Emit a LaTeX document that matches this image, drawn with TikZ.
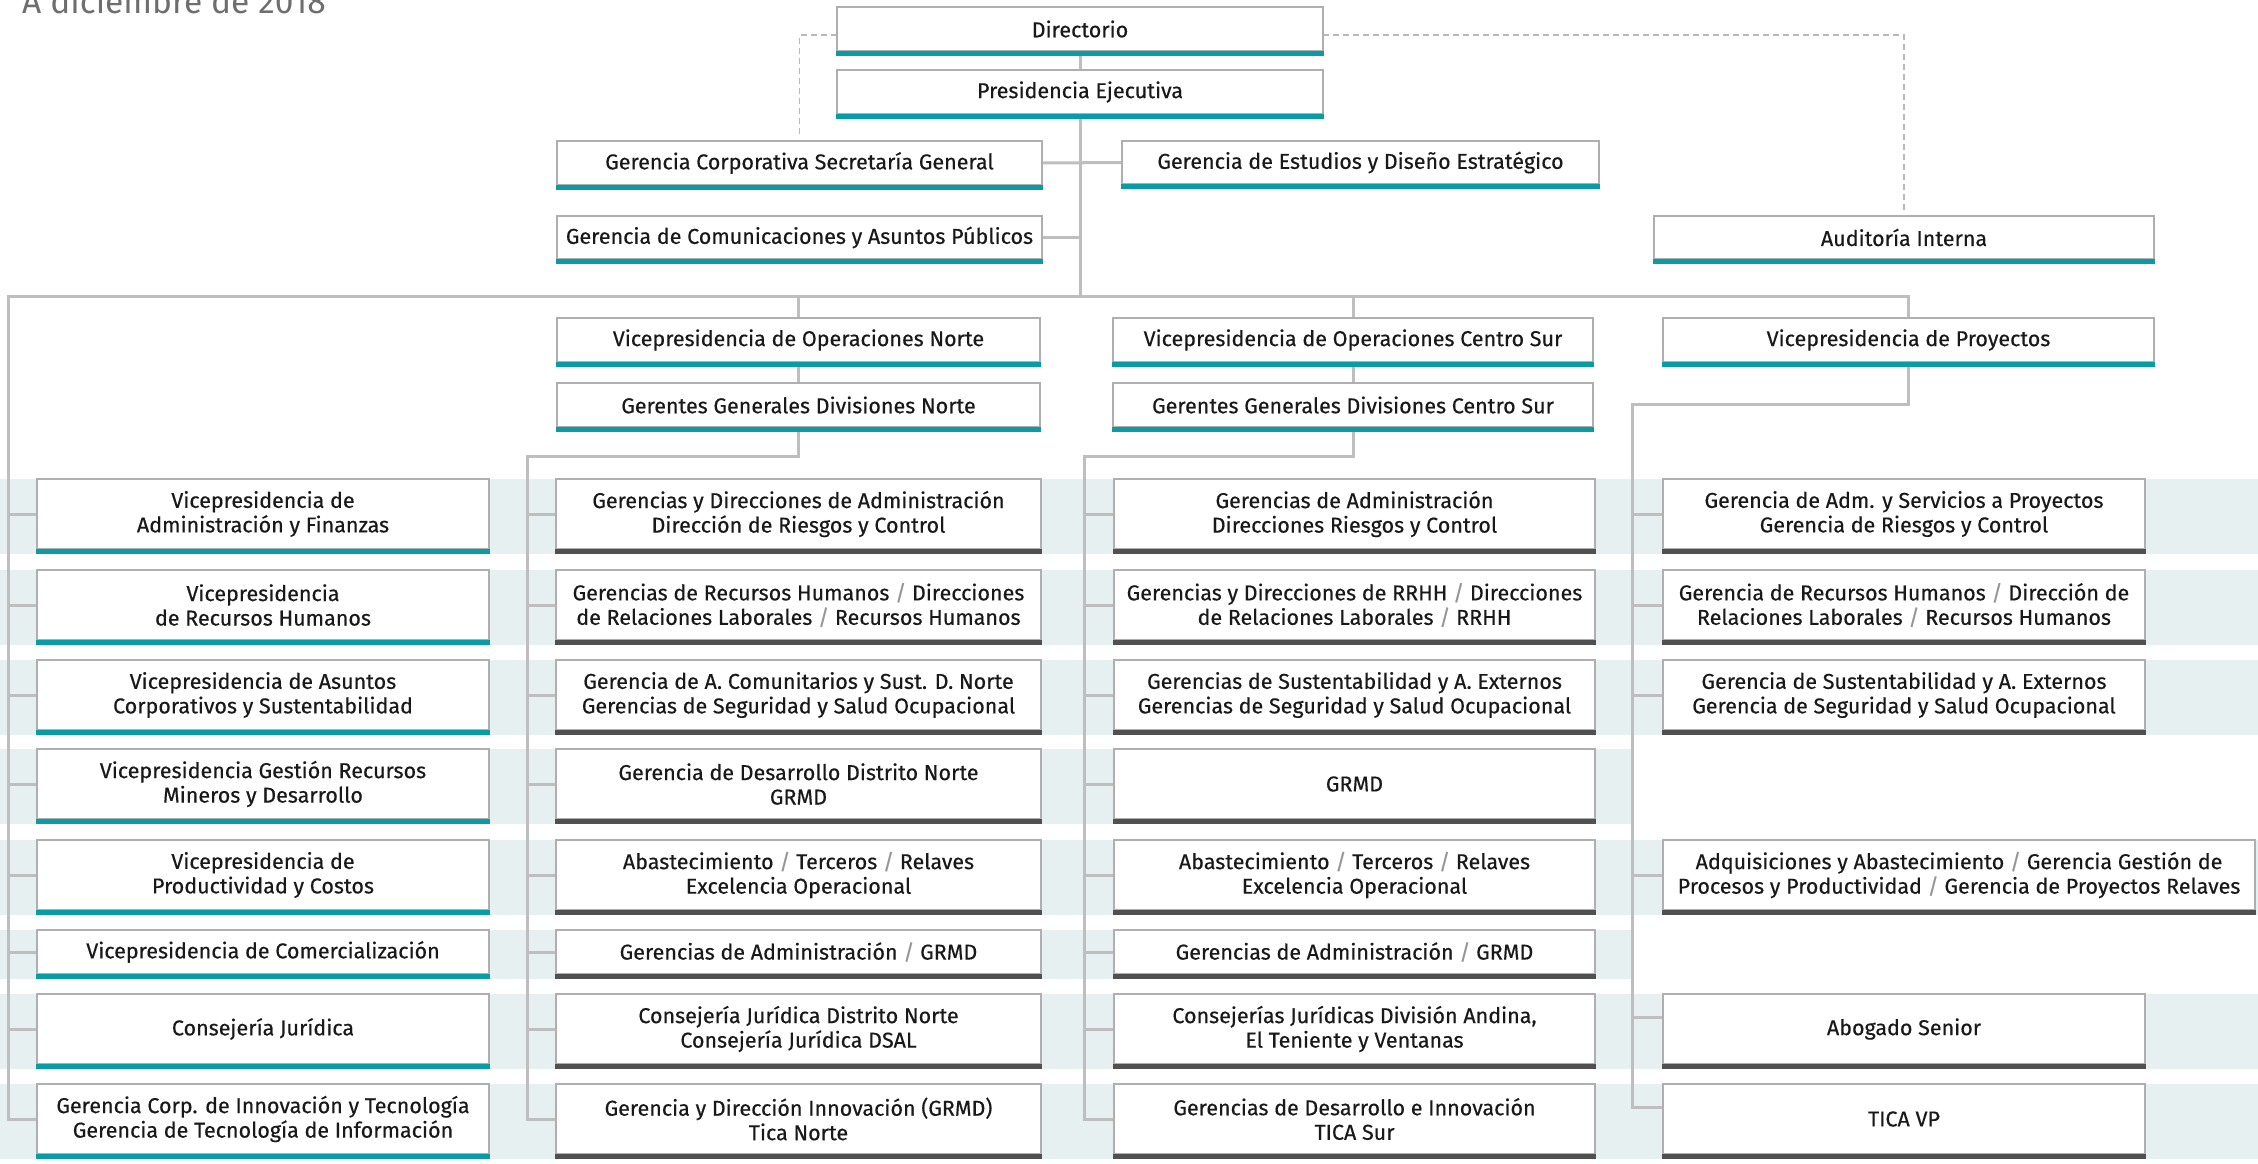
\documentclass[tikz,border=0pt]{standalone}
\usepackage{fontspec}
\setmainfont{Fira Sans}[FakeBold=0.4]
\newfontfamily\titlefont{Fira Sans}
\definecolor{tealc}{RGB}{10,155,165}
\definecolor{darkbar}{RGB}{80,80,80}
\definecolor{bandc}{RGB}{231,240,241}
\definecolor{connc}{RGB}{190,190,190}
\definecolor{borderc}{RGB}{175,175,175}
\definecolor{txtc}{RGB}{25,25,25}
\definecolor{slc}{RGB}{150,150,150}
\definecolor{dashc}{RGB}{185,185,185}
\definecolor{titlec}{RGB}{110,110,110}
\newcommand\osl{{\color{slc}/}}
\pgfdeclarelayer{bandl}
\pgfdeclarelayer{connl}
\pgfsetlayers{bandl,connl,main}
\tikzset{
 boxst/.style={draw=borderc, line width=1.5pt, fill=white, inner sep=2pt, outer sep=0pt,
   align=center, text=txtc, font=\fontsize{21.5}{24.5}\selectfont},
 conn/.style={draw=connc, line width=3pt},
 dsh/.style={draw=dashc, line width=1.5pt, dash pattern=on 6pt off 4pt},
}
\newcommand\obox[7]{%
 \node[boxst, anchor=north west, minimum width=#4pt, minimum height=#5pt] (#1) at (#2,#3) {#7};
 \fill[#6] ([xshift=-0.75pt]#1.south west) rectangle ([xshift=0.75pt,yshift=-5pt]#1.south east);
}
\begin{document}
\begin{tikzpicture}[x=1pt,y=-1pt]
\useasboundingbox (0,0) rectangle (2258,1163);
\clip (0,0) rectangle (2258,1163);
\node[anchor=base west, inner sep=0pt, font=\titlefont\fontsize{33.5}{33.5}\selectfont, text=titlec] (title) at (22,13) {A diciembre de 2018};

% top boxes
\obox{dir}{837}{7}{486}{44}{tealc}{Directorio}
\obox{pres}{837}{70}{486}{44}{tealc}{Presidencia Ejecutiva}
\obox{sec}{557}{141}{485}{44}{tealc}{Gerencia Corporativa Secretaría General}
\obox{com}{557}{216}{485}{43}{tealc}{Gerencia de Comunicaciones y Asuntos Públicos}
\obox{est}{1122}{141}{477}{43}{tealc}{Gerencia de Estudios y Diseño Estratégico}
\obox{aud}{1654}{216}{500}{43}{tealc}{Auditoría Interna}
\obox{vpn}{557}{318}{483}{44}{tealc}{Vicepresidencia de Operaciones Norte}
\obox{gn}{557}{383}{483}{44}{tealc}{Gerentes Generales Divisiones Norte}
\obox{vpc}{1113}{318}{480}{44}{tealc}{Vicepresidencia de Operaciones Centro Sur}
\obox{gc}{1113}{383}{480}{44}{tealc}{Gerentes Generales Divisiones Centro Sur}
\obox{vpp}{1663}{318}{491}{44}{tealc}{Vicepresidencia de Proyectos}

% left column
\obox{l1}{37}{479}{452}{70}{tealc}{Vicepresidencia de\\Administración y Finanzas}
\obox{l2}{37}{570}{452}{70}{tealc}{Vicepresidencia\\de Recursos Humanos}
\obox{l3}{37}{660}{452}{70}{tealc}{Vicepresidencia de Asuntos\\Corporativos y Sustentabilidad}
\obox{l4}{37}{749}{452}{70}{tealc}{Vicepresidencia Gestión Recursos\\Mineros y Desarrollo}
\obox{l5}{37}{840}{452}{70}{tealc}{Vicepresidencia de\\Productividad y Costos}
\obox{l6}{37}{930}{452}{44}{tealc}{Vicepresidencia de Comercialización}
\obox{l7}{37}{994}{452}{70}{tealc}{Consejería Jurídica}
\obox{l8}{37}{1084}{452}{70}{tealc}{Gerencia Corp. de Innovación y Tecnología\\Gerencia de Tecnología de Información}

% Norte column
\obox{n1}{556}{479}{485}{70}{darkbar}{Gerencias y Direcciones de Administración\\Dirección de Riesgos y Control}
\obox{n2}{556}{570}{485}{70}{darkbar}{Gerencias de Recursos Humanos \osl{} Direcciones\\de Relaciones Laborales \osl{} Recursos Humanos}
\obox{n3}{556}{660}{485}{70}{darkbar}{Gerencia de A. Comunitarios y Sust. D. Norte\\Gerencias de Seguridad y Salud Ocupacional}
\obox{n4}{556}{749}{485}{70}{darkbar}{Gerencia de Desarrollo Distrito Norte\\GRMD}
\obox{n5}{556}{840}{485}{70}{darkbar}{Abastecimiento \osl{} Terceros \osl{} Relaves\\Excelencia Operacional}
\obox{n6}{556}{930}{485}{44}{darkbar}{Gerencias de Administración \osl{} GRMD}
\obox{n7}{556}{994}{485}{70}{darkbar}{Consejería Jurídica Distrito Norte\\Consejería Jurídica DSAL}
\obox{n8}{556}{1084}{485}{70}{darkbar}{Gerencia y Dirección Innovación (GRMD)\\Tica Norte}

% Centro Sur column
\obox{c1}{1114}{479}{481}{70}{darkbar}{Gerencias de Administración\\Direcciones Riesgos y Control}
\obox{c2}{1114}{570}{481}{70}{darkbar}{Gerencias y Direcciones de RRHH \osl{} Direcciones\\de Relaciones Laborales \osl{} RRHH}
\obox{c3}{1114}{660}{481}{70}{darkbar}{Gerencias de Sustentabilidad y A. Externos\\Gerencias de Seguridad y Salud Ocupacional}
\obox{c4}{1114}{749}{481}{70}{darkbar}{GRMD}
\obox{c5}{1114}{840}{481}{70}{darkbar}{Abastecimiento \osl{} Terceros \osl{} Relaves\\Excelencia Operacional}
\obox{c6}{1114}{930}{481}{44}{darkbar}{Gerencias de Administración \osl{} GRMD}
\obox{c7}{1114}{994}{481}{70}{darkbar}{Consejerías Jurídicas División Andina,\\El Teniente y Ventanas}
\obox{c8}{1114}{1084}{481}{70}{darkbar}{Gerencias de Desarrollo e Innovación\\TICA Sur}

% Proyectos column
\obox{p1}{1663}{479}{482}{70}{darkbar}{Gerencia de Adm. y Servicios a Proyectos\\Gerencia de Riesgos y Control}
\obox{p2}{1663}{570}{482}{70}{darkbar}{Gerencia de Recursos Humanos \osl{} Dirección de\\Relaciones Laborales \osl{} Recursos Humanos}
\obox{p3}{1663}{660}{482}{70}{darkbar}{Gerencia de Sustentabilidad y A. Externos\\Gerencia de Seguridad y Salud Ocupacional}
\obox{p5}{1663}{840}{592}{70}{darkbar}{Adquisiciones y Abastecimiento \osl{} Gerencia Gestión de\\Procesos y Productividad \osl{} Gerencia de Proyectos Relaves}
\obox{p7}{1663}{994}{482}{70}{darkbar}{Abogado Senior}
\obox{p8}{1663}{1084}{482}{70}{darkbar}{TICA VP}

\coordinate (busL) at (8,296);
\coordinate (nj) at (527,456);
\coordinate (cj) at (1084,456);
\coordinate (pj) at (1632,404);
\coordinate (p7c) at ([yshift=12pt]p7.west);
\coordinate (p8c) at ([yshift=12pt]p8.west);

\begin{pgfonlayer}{bandl}
 \foreach \yt/\yb/\xr in {479/554/2258, 570/645/2258, 660/735/2258, 749/824/1632,
   840/915/2258, 930/979/1632, 994/1069/2258, 1084/1159/2258}
   {\fill[bandc] (0,\yt) rectangle (\xr,\yb);}
\end{pgfonlayer}

\begin{pgfonlayer}{connl}
 \draw[conn] (dir.south) -- (pres.north);
 \draw[conn] (pres.south) -- (pres.south |- busL);
 \draw[conn] (sec.east) -- (est.west);
 \draw[conn] (com.east) -- (com.east -| pres.south);
 \draw[conn] (l8.west) -| (busL) -- (vpp.north |- busL) -- (vpp.north);
 \draw[conn] (vpn.north |- busL) -- (vpn.north);
 \draw[conn] (vpc.north |- busL) -- (vpc.north);
 \draw[conn] (vpn.south) -- (gn.north);
 \draw[conn] (vpc.south) -- (gc.north);
 \foreach \r in {1,...,7} {\draw[conn] (busL |- l\r.west) -- (l\r.west);}
 \draw[conn] (gn.south) |- (nj) |- (n8.west);
 \foreach \r in {1,...,7} {\draw[conn] (nj |- n\r.west) -- (n\r.west);}
 \draw[conn] (gc.south) |- (cj) |- (c8.west);
 \foreach \r in {1,...,7} {\draw[conn] (cj |- c\r.west) -- (c\r.west);}
 \draw[conn] (vpp.south) |- (pj) |- (p8c);
 \foreach \r in {1,2,3,5} {\draw[conn] (pj |- p\r.west) -- (p\r.west);}
 \draw[conn] (pj |- p7c) -- (p7c);
 \draw[dsh] ([yshift=-6pt]dir.west) -| ([yshift=4pt]sec.north);
 \draw[dsh] ([yshift=-6pt]dir.east) -| ([yshift=4pt]aud.north);
\end{pgfonlayer}
\end{tikzpicture}
\end{document}
